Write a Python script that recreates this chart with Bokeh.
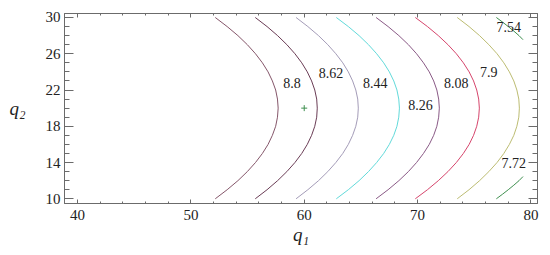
from bokeh.plotting import figure
from bokeh.models import FixedTicker, LinearAxis, Range1d, CustomJSTickFormatter
from bokeh.core.properties import value
from bokeh.embed import file_html
from bokeh.resources import INLINE

# ---- data ----
q2_grid = [10, 11, 12, 13, 14, 15, 16, 17, 18, 19, 20, 21, 22, 23, 24, 25, 26, 27, 28, 29, 30]
c1 = [52.15, 53.20, 54.15, 54.98, 55.70, 56.31, 56.81, 57.19, 57.48, 57.64, 57.70,
      57.64, 57.48, 57.19, 56.81, 56.31, 55.70, 54.98, 54.15, 53.20, 52.15]
c2 = [55.68, 56.72, 57.65, 58.47, 59.18, 59.78, 60.27, 60.65, 60.93, 61.10, 61.15,
      61.10, 60.93, 60.65, 60.27, 59.78, 59.18, 58.47, 57.65, 56.72, 55.68]
c3 = [59.28, 60.32, 61.26, 62.08, 62.79, 63.40, 63.89, 64.27, 64.55, 64.72, 64.77,
      64.72, 64.55, 64.27, 63.89, 63.40, 62.79, 62.08, 61.26, 60.32, 59.28]
c4 = [62.83, 63.89, 64.84, 65.67, 66.39, 67.01, 67.51, 67.90, 68.18, 68.34, 68.40,
      68.34, 68.18, 67.90, 67.51, 67.01, 66.39, 65.67, 64.84, 63.89, 62.83]
c5 = [66.34, 67.40, 68.35, 69.19, 69.91, 70.52, 71.03, 71.42, 71.70, 71.86, 71.92,
      71.86, 71.70, 71.42, 71.03, 70.52, 69.91, 69.19, 68.35, 67.40, 66.34]
c6 = [69.80, 70.87, 71.83, 72.68, 73.42, 74.04, 74.55, 74.94, 75.22, 75.39, 75.45,
      75.39, 75.22, 74.94, 74.55, 74.04, 73.42, 72.68, 71.83, 70.87, 69.80]
c7 = [73.50, 74.54, 75.47, 76.29, 77.01, 77.61, 78.10, 78.49, 78.76, 78.93, 78.98,
      78.93, 78.76, 78.49, 78.10, 77.61, 77.01, 76.29, 75.47, 74.54, 73.50]
# last contour only shows two short pieces in the corners
c8_low_q2 = [10, 10.5, 11, 11.5, 12, 12.45]
c8_low_q1 = [76.95, 77.49, 78.00, 78.49, 78.95, 79.30]
c8_high_q2 = [30, 29.5, 29, 28.5, 28, 27.55]
c8_high_q1 = [76.95, 77.49, 78.00, 78.49, 78.95, 79.30]

label_text = ["8.8", "8.62", "8.44", "8.26", "8.08", "7.9", "7.72", "7.54"]
label_q1 = [58.92, 62.37, 66.27, 70.25, 73.42, 76.27, 78.48, 78.04]
label_q2 = [22.72, 23.83, 22.79, 20.33, 22.79, 24.00, 14.00, 28.90]

point_q1 = [60]
point_q2 = [20]

x_ticks = [40, 50, 60, 70, 80]
x_minor = [38, 40, 42, 44, 46, 48, 50, 52, 54, 56, 58, 60, 62, 64, 66, 68, 70, 72, 74, 76, 78, 80]
y_ticks = [10, 14, 18, 22, 26, 30]
y_minor = list(range(9, 31))

colors = ["#85566a", "#6a3c55", "#a49cb8", "#62dada", "#8a5a86", "#d6456c", "#bcbc72", "#3f8f4f"]

# ---- figure ----
FONT = "'Liberation Serif'"
GREY = "#6b6b6b"

p = figure(frame_width=473, frame_height=190,
           x_range=Range1d(38.85, 80.58), y_range=Range1d(9.48, 30.44),
           output_backend="svg", toolbar_location=None,
           min_border_left=64, min_border_right=8, min_border_top=13, min_border_bottom=46)
p.xgrid.visible = False
p.ygrid.visible = False
p.outline_line_color = GREY
p.outline_line_width = 1
p.background_fill_color = "white"
p.border_fill_color = "white"

def style_axis(ax, major_in, minor_in):
    ax.axis_line_color = GREY
    ax.major_tick_line_color = GREY
    ax.minor_tick_line_color = GREY
    ax.major_tick_out = 0
    ax.minor_tick_out = 0
    ax.major_tick_in = major_in
    ax.minor_tick_in = minor_in
    ax.major_label_text_font = FONT
    ax.major_label_text_font_size = "15px"
    ax.major_label_text_color = "#222222"
    ax.axis_label_text_font = FONT
    ax.axis_label_text_font_style = "italic"
    ax.axis_label_text_font_size = "19px"
    ax.axis_label_text_color = "#222222"

xa = p.xaxis[0]
xa.ticker = FixedTicker(ticks=x_ticks, minor_ticks=x_minor)
style_axis(xa, 4, 2)
xa.major_label_standoff = 6
xa.axis_label = "q\u2081"
xa.axis_label_standoff = 1

ya = p.yaxis[0]
ya.ticker = FixedTicker(ticks=y_ticks, minor_ticks=y_minor)
style_axis(ya, 9, 5)
ya.major_label_standoff = 4
ya.axis_label = "q\u2082"
ya.axis_label_orientation = "horizontal"
ya.axis_label_standoff = 17

blank = CustomJSTickFormatter(code="return ''")
top = LinearAxis(ticker=FixedTicker(ticks=x_ticks, minor_ticks=x_minor), formatter=blank)
style_axis(top, 4, 2)
top.major_label_standoff = 0
top.major_label_text_font_size = "1px"
p.add_layout(top, "above")

right = LinearAxis(ticker=FixedTicker(ticks=y_ticks, minor_ticks=y_minor), formatter=blank)
style_axis(right, 9, 5)
right.major_label_standoff = 0
right.major_label_text_font_size = "1px"
p.add_layout(right, "right")

curves = [c1, c2, c3, c4, c5, c6, c7]
for q1_vals, col in zip(curves, colors[:7]):
    p.line(q1_vals, q2_grid, line_color=col, line_width=1)
p.line(c8_low_q1, c8_low_q2, line_color=colors[7], line_width=1)
p.line(c8_high_q1, c8_high_q2, line_color=colors[7], line_width=1)

p.text(x=label_q1, y=label_q2, text=label_text, text_font=value(FONT),
       text_font_size="14px", text_color="#222222",
       text_align="center", text_baseline="middle")

p.scatter(point_q1, point_q2, marker="cross", size=6, line_color="#3f8f4f", line_width=1)

open("out.html", "w").write(file_html(p, INLINE))
